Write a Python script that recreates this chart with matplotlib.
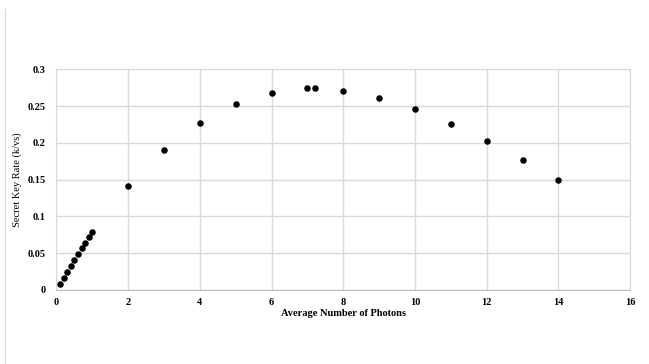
"""Secret key rate vs. average number of photons (scatter)."""

import matplotlib

matplotlib.use("Agg")
import matplotlib.pyplot as plt
from matplotlib.lines import Line2D

photons = [0.1, 0.2, 0.3, 0.4, 0.5, 0.6, 0.7, 0.8, 0.9, 1.0,
           2, 3, 4, 5, 6, 7, 7.2, 8, 9, 10, 11, 12, 13, 14]
key_rate = [0.008, 0.016, 0.025, 0.033, 0.041, 0.049, 0.057, 0.064, 0.072, 0.079,
            0.141, 0.190, 0.227, 0.253, 0.268, 0.274, 0.274, 0.271, 0.261, 0.246,
            0.226, 0.202, 0.177, 0.150]
x_ticks = [0, 2, 4, 6, 8, 10, 12, 14, 16]
y_ticks = [0, 0.05, 0.1, 0.15, 0.2, 0.25, 0.3]
y_labels = ["0", "0.05", "0.1", "0.15", "0.2", "0.25", "0.3"]

plt.rcParams["font.family"] = ["Liberation Serif", "DejaVu Serif"]

fig = plt.figure(figsize=(6.49, 3.64), dpi=100)
ax = fig.add_axes([0.087, 0.2033, 0.884, 0.6063])

ax.scatter(photons, key_rate, s=22, color="black", zorder=3, linewidths=0)

ax.set_xlim(0, 16)
ax.set_ylim(0, 0.3)
ax.set_xticks(x_ticks)
ax.set_yticks(y_ticks)
ax.set_yticklabels(y_labels)
ax.grid(True, color="#d9d9d9", linewidth=1.0)
ax.set_axisbelow(True)
for side in ("top", "right", "left"):
    ax.spines[side].set_color("#d9d9d9")
ax.spines["bottom"].set_color("#bfbfbf")
ax.tick_params(length=0, labelsize=7.5)
ax.tick_params(axis="x", pad=6)
ax.tick_params(axis="y", pad=8)
for lab in ax.get_xticklabels() + ax.get_yticklabels():
    lab.set_fontweight("bold")

ax.set_xlabel("Average Number of Photons", fontsize=7.5, fontweight="bold", labelpad=1)
ax.set_ylabel("Secret Key Rate (k/vs)", fontsize=7.5, labelpad=4)

# chart-area border on the left edge
fig.add_artist(Line2D([0.008, 0.008], [0.0, 0.975], transform=fig.transFigure,
                      color="#d9d9d9", linewidth=1.0))

fig.savefig("out.png", dpi=100)
